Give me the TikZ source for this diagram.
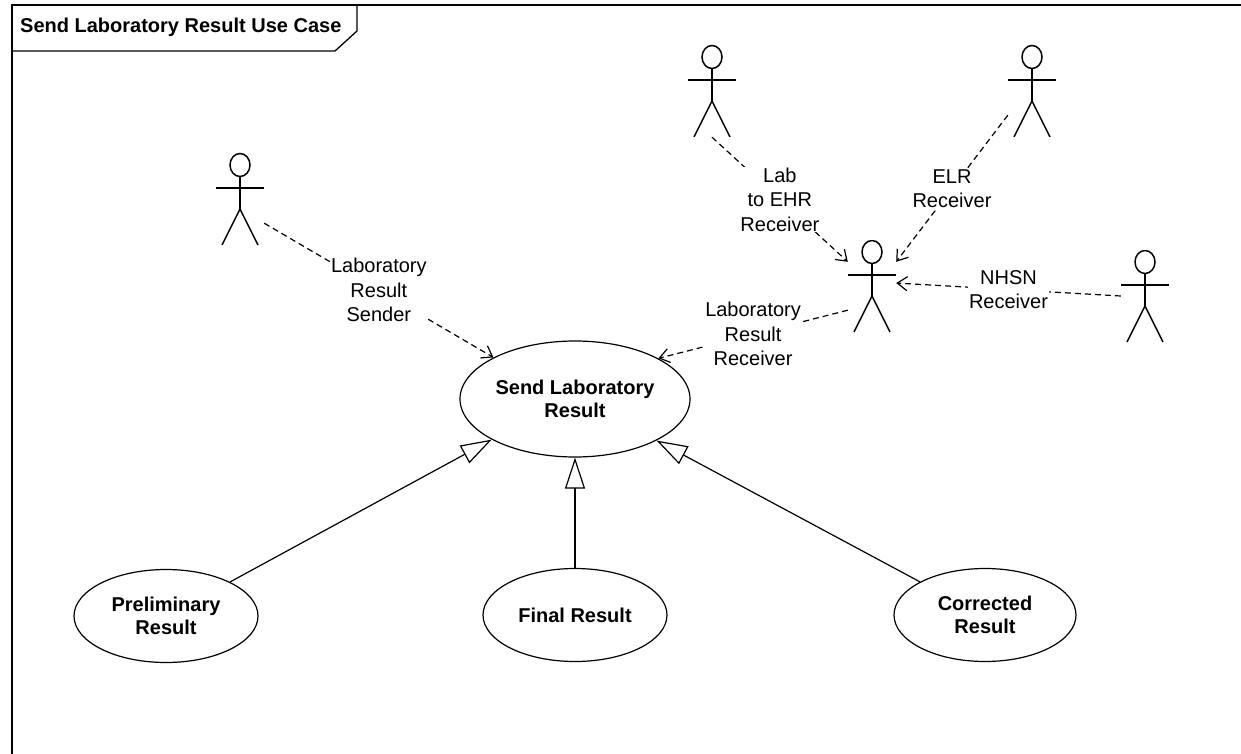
\documentclass[tikz,border=0pt]{standalone}
\usepackage{fontspec}
\setmainfont{Liberation Sans}
\usetikzlibrary{shapes.geometric,arrows.meta}

\tikzset{
  usecase/.style={draw, ellipse, line width=1.2pt, minimum width=184pt, minimum height=93pt,
    inner sep=0pt, align=center, font=\fontsize{20pt}{23pt}\selectfont\bfseries},
  actor/.style={minimum width=48pt, minimum height=92pt, inner sep=0pt,
    path picture={
      \begin{scope}[shift={(path picture bounding box.center)}, line width=1.5pt]
        \draw (0pt,34pt) ellipse [x radius=10pt, y radius=11.5pt];
        \draw (0pt,22.5pt) -- (0pt,-10pt);
        \draw (-24pt,11pt) -- (24pt,11pt);
        \draw (-18pt,-46pt) -- (0pt,-10pt) -- (18pt,-46pt);
      \end{scope}}},
  dep/.style={line width=1.2pt, dash pattern=on 6pt off 4pt,
    -{Straight Barb[length=10pt,width=14pt]}},
  gen/.style={line width=1.2pt, -{Triangle[open,length=31pt,width=20pt,fill=white]}},
  lbl/.style={fill=white, inner sep=1pt, align=center, font=\fontsize{20pt}{24.5pt}\selectfont}
}

\begin{document}
\begin{tikzpicture}[x=1pt,y=-1pt]
\path[use as bounding box, fill=white] (0,0) rectangle (1241,754);

% frame and its name tab
\draw[line width=1.6pt] (12,754) -- (12,5) -- (1241,5);
\draw[line width=1.3pt] (12,51) -- (335,51) -- (357,31) -- (357,5);
\node[anchor=west, inner sep=0pt, font=\fontsize{20pt}{23pt}\selectfont\bfseries] (title) at (20,27)
  {Send Laboratory Result Use Case};

% use cases
\node[usecase, minimum width=230pt, minimum height=116pt] (send) at (575,399) {Send Laboratory\\Result};
\node[usecase] (prelim) at (166,616) {Preliminary\\Result};
\node[usecase] (final) at (575,615) {Final Result};
\node[usecase, minimum width=182pt] (corr) at (985,615) {Corrected\\Result};

% actors
\node[actor] (sender) at (240,199) {};
\node[actor] (recv) at (872,286) {};
\node[actor] (lab) at (712,91) {};
\node[actor] (elr) at (1032,91) {};
\node[actor] (nhsn) at (1145,296) {};

% dependencies
\draw[dep] (sender.-45) -- node[lbl] {Laboratory\\Result\\Sender} (send.153);
\draw[dep] (recv.-135) -- node[lbl] {Laboratory\\Result\\Receiver} (send.26);
\draw[dep] (lab.south) -- node[lbl] {Lab\\to EHR\\Receiver} (recv.135);
\draw[dep] (elr.-135) -- node[lbl] {ELR\\Receiver} (recv.45);
\draw[dep] (nhsn.west) -- node[lbl] {NHSN\\Receiver} (recv.7);

% generalizations
\draw[gen] (prelim.28) -- (send.-154);
\draw[gen] (final.north) -- (send.south);
\draw[gen] (corr.153) -- (send.-27);
\end{tikzpicture}
\end{document}
